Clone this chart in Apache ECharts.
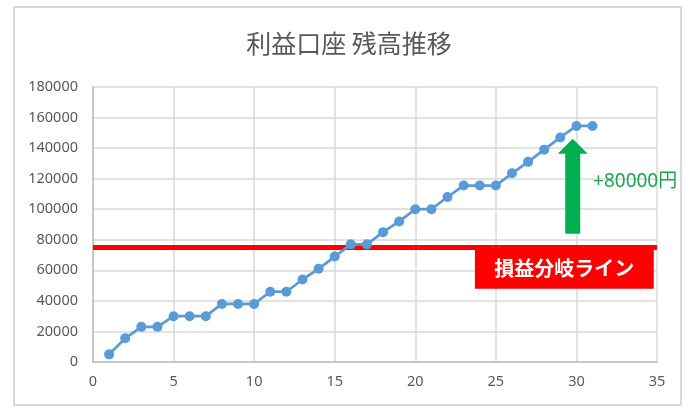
<!DOCTYPE html>
<html><head><meta charset="utf-8">
<script src="https://cdn.jsdelivr.net/npm/echarts@6/dist/echarts.min.js"></script>
<style>html,body{margin:0;padding:0;background:#fff}#c{width:698px;height:410px}</style>
</head><body><div id="c"></div>
<script>
// Data
const days = [1,2,3,4,5,6,7,8,9,10,11,12,13,14,15,16,17,18,19,20,21,22,23,24,25,26,27,28,29,30,31];
const balances = [5000,15500,23000,23000,30000,30000,30000,38000,38000,38000,46000,46000,54000,61000,69000,77000,77000,85000,92000,100000,100000,108000,115500,115500,115500,123500,131000,139000,147000,154500,154500];
const breakEven = 75000;
const titleText = '利益口座 残高推移';
const breakEvenLabel = '損益分岐ライン';
const gainLabel = '+80000円';

const chart = echarts.init(document.getElementById('c'), null, {renderer:'canvas'});
const gray = '#595959';
const font = '"Noto Sans", "Noto Sans CJK JP", sans-serif';
chart.setOption({
  animation:false,
  backgroundColor:'#fff',
  title:{text:titleText,left:'center',top:26,textStyle:{fontSize:25,fontWeight:'normal',color:gray,fontFamily:'"Noto Sans CJK JP", sans-serif'}},
  grid:{left:93,right:41,top:87,bottom:48},
  xAxis:{type:'value',min:0,max:35,interval:5,
    axisLine:{show:true,lineStyle:{color:'#bfbfbf',width:1.5}},axisTick:{show:false},
    axisLabel:{color:gray,fontSize:14.5,fontFamily:font,margin:13,formatter:v=>String(v)},
    splitLine:{show:true,lineStyle:{color:'#d9d9d9',width:1.5}}},
  yAxis:{type:'value',min:0,max:180000,interval:20000,
    axisLine:{show:true,lineStyle:{color:'#bfbfbf',width:1.5}},axisTick:{show:false},
    axisLabel:{color:gray,fontSize:14.5,fontFamily:font,margin:15,formatter:v=>String(v)},
    splitLine:{show:true,lineStyle:{color:'#d9d9d9',width:1.5}}},
  series:[{
    type:'line',data:days.map((d,i)=>[d,balances[i]]),
    symbol:'circle',symbolSize:10,
    lineStyle:{color:'#5b9bd5',width:2.75},itemStyle:{color:'#5b9bd5'},
    z:3,
    markLine:{silent:true,symbol:'none',label:{show:false},
      lineStyle:{color:'#ff0000',width:5,type:'solid'},
      data:[{yAxis:breakEven}],z:2}
  }]
});

function px(x,y){return chart.convertToPixel({gridIndex:0},[x,y]);}
// annotation anchors (data units)
const boxL = px(23.7, 75800), boxR = px(34.8, 48000);
const aBase = px(29.77, 84000), aNeck = px(29.77, 136300), aTip = px(29.77, 146200);
const gainPos = px(31.03, 118000);
const ax = aBase[0];
chart.setOption({graphic:[
  {type:'rect',z:100,shape:{x:14,y:7,width:667,height:398},style:{fill:'none',stroke:'#d9d9d9',lineWidth:2}},
  {type:'rect',z:100,shape:{x:boxL[0],y:boxL[1],width:boxR[0]-boxL[0],height:boxR[1]-boxL[1]},style:{fill:'#ff0000'}},
  {type:'text',z:101,style:{text:breakEvenLabel,x:(boxL[0]+boxR[0])/2,y:(boxL[1]+boxR[1])/2+1,align:'center',verticalAlign:'middle',fill:'#fff',font:'bold 20px "Noto Sans CJK JP", sans-serif'}},
  {type:'polygon',z:100,shape:{points:[[ax-7.5,aBase[1]],[ax+7.5,aBase[1]],[ax+7.5,aNeck[1]],[ax+15,aNeck[1]],[ax,aTip[1]],[ax-15,aNeck[1]],[ax-7.5,aNeck[1]]]},style:{fill:'#00b050'}},
  {type:'text',z:101,style:{text:gainLabel,x:gainPos[0],y:gainPos[1],align:'left',verticalAlign:'middle',fill:'#1fa34f',font:'19px "Noto Sans", "Noto Sans CJK JP", sans-serif'}}
]});
</script></body></html>
